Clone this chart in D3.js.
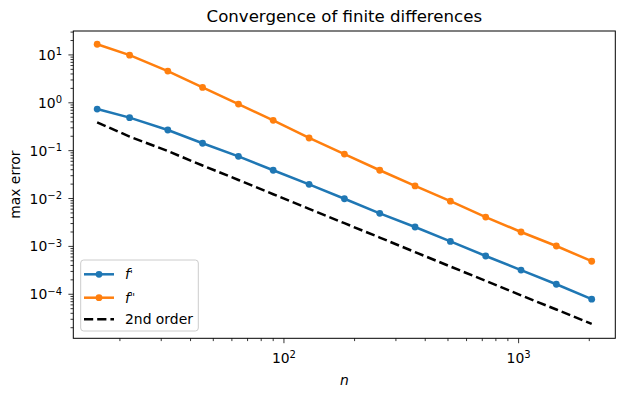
<!DOCTYPE html>
<html>
<head>
<meta charset="utf-8">
<script src="https://cdn.jsdelivr.net/npm/d3@7"></script>
<style>
  body { margin: 0; background: #fff; }
  text { font-family: "DejaVu Sans", sans-serif; }
</style>
</head>
<body>
<div id="chart"></div>
<script>
// grid sizes and measured max errors
var nValues = [16, 22, 32, 45, 64, 90, 128, 181, 256, 362, 512, 724, 1024, 1448, 2048];
var errFirst = [0.74, 0.49, 0.27, 0.143, 0.076, 0.039, 0.0198, 0.0099, 0.0049, 0.00254, 0.00127, 0.00063, 0.00032, 0.000162, 0.000079];
var errSecond = [16.7, 9.9, 4.6, 2.1, 0.94, 0.43, 0.184, 0.085, 0.039, 0.0183, 0.0088, 0.0041, 0.0020, 0.00102, 0.00049];
var secondOrder = [0.39, 0.197, 0.098, 0.049, 0.0244, 0.0123, 0.0061, 0.00305, 0.00153, 0.00076, 0.00038, 0.00019, 0.000095, 0.000048, 0.000024];
var xTicks = [100, 1000];
var yTicks = [10, 1, 0.1, 0.01, 0.001, 0.0001];

var width = 625, height = 396;
var margin = {left: 73.3, right: 625 - 615.3, top: 31, bottom: 396 - 338.3};

var svg = d3.select("#chart").append("svg")
    .attr("width", width)
    .attr("height", height);

var x = d3.scaleLog()
    .domain([12.66, 2582])
    .range([margin.left, width - margin.right]);

var y = d3.scaleLog()
    .domain([Math.pow(10, -4.92), Math.pow(10, 1.50)])
    .range([height - margin.bottom, margin.top]);

function powLabel(sel, v) {
    var e = Math.round(Math.log10(v));
    sel.text("10");
    sel.append("tspan")
        .attr("dy", "-0.45em")
        .attr("font-size", "10px")
        .text(String(e).replace("-", "\u2212"));
}

// minor ticks
var xMinor = [], yMinor = [];
[10, 100, 1000].forEach(function (b) {
    for (var k = 2; k <= 9; k++) {
        var v = b * k;
        if (v > x.domain()[0] && v < x.domain()[1]) xMinor.push(v);
    }
});
[1e-5, 1e-4, 1e-3, 1e-2, 1e-1, 1, 10].forEach(function (b) {
    for (var k = 2; k <= 9; k++) {
        var v = b * k;
        if (v > y.domain()[0] && v < y.domain()[1]) yMinor.push(v);
    }
});

var xAxisY = height - margin.bottom;

svg.selectAll(".xminor").data(xMinor).enter().append("line")
    .attr("x1", function (d) { return x(d); })
    .attr("x2", function (d) { return x(d); })
    .attr("y1", xAxisY).attr("y2", xAxisY + 2.8)
    .attr("stroke", "#000").attr("stroke-width", 0.8);

svg.selectAll(".xmajor").data(xTicks).enter().append("line")
    .attr("x1", function (d) { return x(d); })
    .attr("x2", function (d) { return x(d); })
    .attr("y1", xAxisY).attr("y2", xAxisY + 4.9)
    .attr("stroke", "#000").attr("stroke-width", 0.8);

svg.selectAll(".xlab").data(xTicks).enter().append("text")
    .attr("x", function (d) { return x(d); })
    .attr("y", 362.5)
    .attr("text-anchor", "middle")
    .attr("font-size", "13.9px")
    .each(function (d) { powLabel(d3.select(this), d); });

svg.selectAll(".yminor").data(yMinor).enter().append("line")
    .attr("x1", margin.left - 2.8).attr("x2", margin.left)
    .attr("y1", function (d) { return y(d); })
    .attr("y2", function (d) { return y(d); })
    .attr("stroke", "#000").attr("stroke-width", 0.8);

svg.selectAll(".ymajor").data(yTicks).enter().append("line")
    .attr("x1", margin.left - 4.9).attr("x2", margin.left)
    .attr("y1", function (d) { return y(d); })
    .attr("y2", function (d) { return y(d); })
    .attr("stroke", "#000").attr("stroke-width", 0.8);

svg.selectAll(".ylab").data(yTicks).enter().append("text")
    .attr("x", 62)
    .attr("y", function (d) { return y(d) + 5; })
    .attr("text-anchor", "end")
    .attr("font-size", "13.9px")
    .each(function (d) { powLabel(d3.select(this), d); });

// lines
var line = d3.line()
    .x(function (d) { return x(d[0]); })
    .y(function (d) { return y(d[1]); });

var series = [
    {vals: errFirst, color: "#1f77b4"},
    {vals: errSecond, color: "#ff7f0e"}
];

svg.append("path")
    .datum(d3.zip(nValues, secondOrder))
    .attr("d", line)
    .attr("fill", "none")
    .attr("stroke", "#000")
    .attr("stroke-width", 2.5)
    .attr("stroke-dasharray", "9.2,4");

series.forEach(function (s) {
    var pts = d3.zip(nValues, s.vals);
    svg.append("path")
        .datum(pts)
        .attr("d", line)
        .attr("fill", "none")
        .attr("stroke", s.color)
        .attr("stroke-width", 2.5);
    svg.selectAll(null).data(pts).enter().append("circle")
        .attr("cx", function (d) { return x(d[0]); })
        .attr("cy", function (d) { return y(d[1]); })
        .attr("r", 3.4)
        .attr("fill", s.color);
});

// frame
svg.append("rect")
    .attr("x", margin.left).attr("y", margin.top)
    .attr("width", width - margin.right - margin.left)
    .attr("height", height - margin.bottom - margin.top)
    .attr("fill", "none")
    .attr("stroke", "#000")
    .attr("stroke-width", 1);

// title and axis labels
svg.append("text")
    .attr("x", (margin.left + width - margin.right) / 2)
    .attr("y", 22)
    .attr("text-anchor", "middle")
    .attr("font-size", "16.6px")
    .text("Convergence of finite differences");

svg.append("text")
    .attr("x", (margin.left + width - margin.right) / 2)
    .attr("y", 385)
    .attr("text-anchor", "middle")
    .attr("font-size", "13.9px")
    .attr("font-style", "italic")
    .text("n");

svg.append("text")
    .attr("transform", "translate(20," + ((margin.top + height - margin.bottom) / 2) + ") rotate(-90)")
    .attr("text-anchor", "middle")
    .attr("font-size", "13.9px")
    .text("max error");

// legend
var lg = svg.append("g");
lg.append("rect")
    .attr("x", 80.7).attr("y", 260)
    .attr("width", 117.6).attr("height", 71)
    .attr("rx", 3)
    .attr("fill", "#fff").attr("fill-opacity", 0.8)
    .attr("stroke", "#ccc").attr("stroke-width", 1);

var legendItems = [
    {label: "f", primes: "'", color: "#1f77b4", marker: true, dash: null},
    {label: "f", primes: "''", color: "#ff7f0e", marker: true, dash: null},
    {label: "2nd order", primes: null, color: "#000", marker: false, dash: "9.2,4"}
];
var ly = [274.3, 297.7, 319.3];

legendItems.forEach(function (it, i) {
    lg.append("line")
        .attr("x1", 84).attr("x2", 114)
        .attr("y1", ly[i]).attr("y2", ly[i])
        .attr("stroke", it.color)
        .attr("stroke-width", 2.5)
        .attr("stroke-dasharray", it.dash);
    if (it.marker) {
        lg.append("circle")
            .attr("cx", 99).attr("cy", ly[i]).attr("r", 3.4)
            .attr("fill", it.color);
    }
    var t = lg.append("text")
        .attr("x", 125)
        .attr("y", ly[i] + 5)
        .attr("font-size", "13.9px")
        .text(it.label);
    if (it.primes) {
        t.attr("font-style", "italic");
        t.append("tspan")
            .attr("dy", "-0.15em")
            .attr("font-size", "10px")
            .attr("letter-spacing", "-0.5")
            .text(it.primes);
    }
});
</script>
</body>
</html>
